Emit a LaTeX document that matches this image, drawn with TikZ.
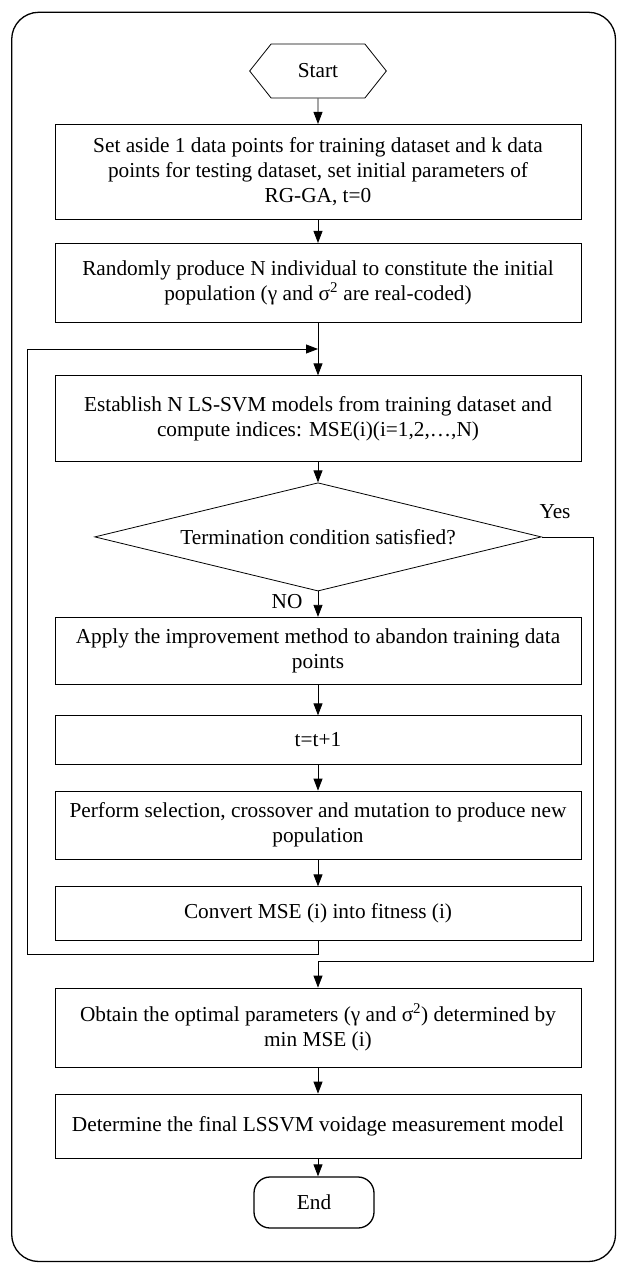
\documentclass[tikz,border=0pt]{standalone}
\usepackage{fontspec}
\setmainfont{Liberation Serif}
\usetikzlibrary{arrows.meta,shapes.geometric,shapes.symbols}

\begin{document}
\begin{tikzpicture}[yscale=-1
                ,font=\fontsize{21.3pt}{25pt}\selectfont
                ,boxstyle/.style={draw,line width=0.8pt,minimum width=526pt,inner sep=0pt,align=center}
                ,decstyle/.style={draw,diamond,line width=0.8pt,minimum width=446.6pt,minimum height=108.3pt,inner sep=0pt,aspect=4}
                ,arrstyle/.style={line width=0.8pt,-{Triangle[length=12pt,width=9pt]}}
            ]
            \useasboundingbox (0pt,0pt) rectangle (617pt,1263pt);
            \draw[line width=1.3pt,rounded corners=27pt] (11.7pt,12.3pt) rectangle (615.5pt,1261.5pt);
            \node[draw,signal,signal to=west and east,signal pointer angle=103,minimum width=136.7pt,minimum height=54pt,inner sep=0pt,line width=0.8pt] (start) at (318pt,71pt) {Start};
            \node[boxstyle,minimum height=94.7pt] (setaside) at (318pt,171.7pt) {Set aside 1 data points for training dataset and k data\\points for testing dataset, set initial parameters of\\RG-GA, t=0};
            \node[boxstyle,minimum height=78.7pt] (randpop) at (318pt,282.7pt) {Randomly produce N individual to constitute the initial\\population (γ and σ\textsuperscript{2} are real-coded)};
            \node[boxstyle,minimum height=85.3pt] (models) at (318pt,418.4pt) {Establish N LS-SVM models from training dataset and\\compute indices: MSE(i)(i=1,2,…,N)};
            \node[decstyle] (term) at (318pt,536.9pt) {Termination condition satisfied?};
            \node[boxstyle,minimum height=67pt] (abandon) at (318pt,650.8pt) {Apply the improvement method to abandon training data\\points};
            \node[boxstyle,minimum height=48.3pt] (tinc) at (318pt,739.9pt) {t=t+1};
            \node[boxstyle,minimum height=68pt] (selcross) at (318pt,825pt) {Perform selection, crossover and mutation to produce new\\population};
            \node[boxstyle,minimum height=53.3pt] (convert) at (318pt,913.4pt) {Convert MSE (i) into fitness (i)};
            \node[boxstyle,minimum height=79pt] (optimal) at (318pt,1027.5pt) {Obtain the optimal parameters (γ and σ\textsuperscript{2}) determined by\\min MSE (i)};
            \node[boxstyle,minimum height=64pt] (final) at (318pt,1126pt) {Determine the final LSSVM voidage measurement model};
            \node[draw,line width=1.3pt,rounded corners=16pt,minimum width=120pt,minimum height=51pt,inner sep=0pt] (finish) at (314pt,1202.5pt) {End};
            \node[anchor=east] (nolabel) at (306pt,602pt) {NO};
            \node (yeslabel) at (555pt,512pt) {Yes};
            \coordinate (loopbot) at (27.7pt,954pt);
            \coordinate (loopin) at (318pt,349pt);
            \coordinate (yescorner) at (593pt,961pt);
            \draw[arrstyle] (start) -- (setaside);
            \draw[arrstyle] (setaside) -- (randpop);
            \draw[arrstyle] (randpop) -- (models);
            \draw[arrstyle] (models) -- (term);
            \draw[arrstyle] (term) -- (abandon);
            \draw[arrstyle] (abandon) -- (tinc);
            \draw[arrstyle] (tinc) -- (selcross);
            \draw[arrstyle] (selcross) -- (convert);
            \draw[arrstyle] (convert.south) |- (loopbot) |- (loopin);
            \draw[arrstyle] (term.east) -| (yescorner) -| (optimal.north);
            \draw[arrstyle] (optimal) -- (final);
            \draw[arrstyle] (final.south) -- (final.south |- finish.north);
        \end{tikzpicture}
\end{document}
